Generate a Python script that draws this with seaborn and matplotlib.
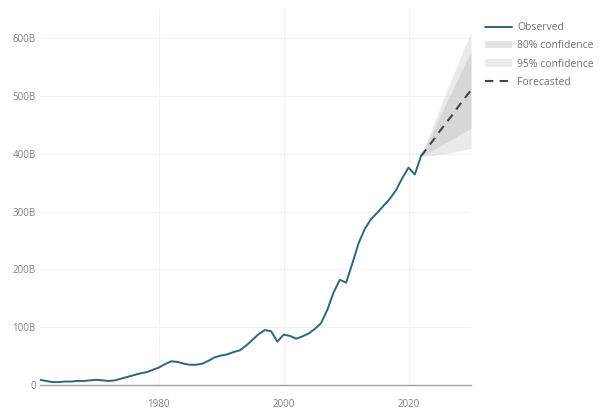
import matplotlib
matplotlib.use("Agg")
import matplotlib.pyplot as plt
import seaborn as sns
import pandas as pd
from matplotlib.ticker import FixedLocator, FuncFormatter

# Observed series (billions)
years = list(range(1961, 2023))
observed = [
    9, 7, 5, 5, 6, 6, 7, 7, 8, 9,
    8, 7, 8, 11, 14, 17, 20, 22, 26, 30,
    36, 41, 40, 37, 35, 35, 37, 42, 48, 51,
    53, 57, 60, 68, 78, 88, 95, 93, 75, 87,
    85, 80, 84, 89, 97, 107, 130, 160, 182, 177,
    210, 245, 270, 287, 298, 310, 322, 337, 358, 376,
    364, 396,
]

# Forecast with confidence intervals
fc_years = [2022, 2023, 2024, 2025, 2026, 2027, 2028, 2029, 2030]
forecast = [396, 410, 424, 439, 453, 467, 482, 496, 510]
lo80 = [396, 401, 407, 413, 419, 425, 432, 438, 444]
hi80 = [396, 419, 441, 465, 487, 509, 532, 554, 576]
lo95 = [396, 396, 397, 399, 400, 402, 405, 407, 409]
hi95 = [396, 424, 451, 479, 506, 532, 559, 585, 611]

y_ticks = [0, 100, 200, 300, 400, 500, 600]
x_ticks = [1980, 2000, 2020]

sns.set_style("white")
plt.rcParams["font.family"] = ["Open Sans", "DejaVu Sans"]

obs_df = pd.DataFrame({"year": years, "value": observed})
fc_df = pd.DataFrame({"year": fc_years, "value": forecast})

fig = plt.figure(figsize=(6.09, 4.17), dpi=100)
ax = fig.add_axes([40 / 609, 32 / 417, 431 / 609, 377 / 417])

ax.fill_between(fc_years, lo95, hi95, color="#d6d6d6", alpha=0.5,
                linewidth=0, label="95% confidence", zorder=1)
ax.fill_between(fc_years, lo80, hi80, color="#bcbcbc", alpha=0.4,
                linewidth=0, label="80% confidence", zorder=2)

sns.lineplot(data=obs_df, x="year", y="value", ax=ax, color="#2e6678",
             linewidth=1.4, label="Observed", zorder=4)
sns.lineplot(data=fc_df, x="year", y="value", ax=ax, color="#3b4650",
             linewidth=1.5, label="Forecasted", zorder=5)
ax.lines[-1].set_dashes([4, 3])

ax.set_xlim(1961, 2030)
ax.set_ylim(0, 652)
ax.xaxis.set_major_locator(FixedLocator(x_ticks))
ax.yaxis.set_major_locator(FixedLocator(y_ticks))
ax.yaxis.set_major_formatter(FuncFormatter(lambda v, p: "0" if v == 0 else f"{int(v)}B"))
ax.set_xlabel("")
ax.set_ylabel("")

ax.grid(True, color="#f2f2f2", linewidth=0.8)
ax.set_axisbelow(True)
for side in ["top", "right", "left"]:
    ax.spines[side].set_visible(False)
ax.spines["bottom"].set_color("#a0a0a0")
ax.spines["bottom"].set_linewidth(1.0)
ax.tick_params(axis="both", length=0, labelsize=7, labelcolor="#808080")
ax.tick_params(axis="y", pad=3)
ax.tick_params(axis="x", pad=10)

ax.get_legend().remove()
handles, labels = ax.get_legend_handles_labels()
order = ["Observed", "80% confidence", "95% confidence", "Forecasted"]
hmap = dict(zip(labels, handles))
fig.legend([hmap[k] for k in order], order, loc="upper left",
           bbox_to_anchor=(481 / 609, 1 - 18 / 417), frameon=False,
           fontsize=7.5, labelcolor="#707070", handlelength=2.6,
           handletextpad=0.5, labelspacing=0.7, borderaxespad=0)

fig.savefig("out.png", dpi=100)
